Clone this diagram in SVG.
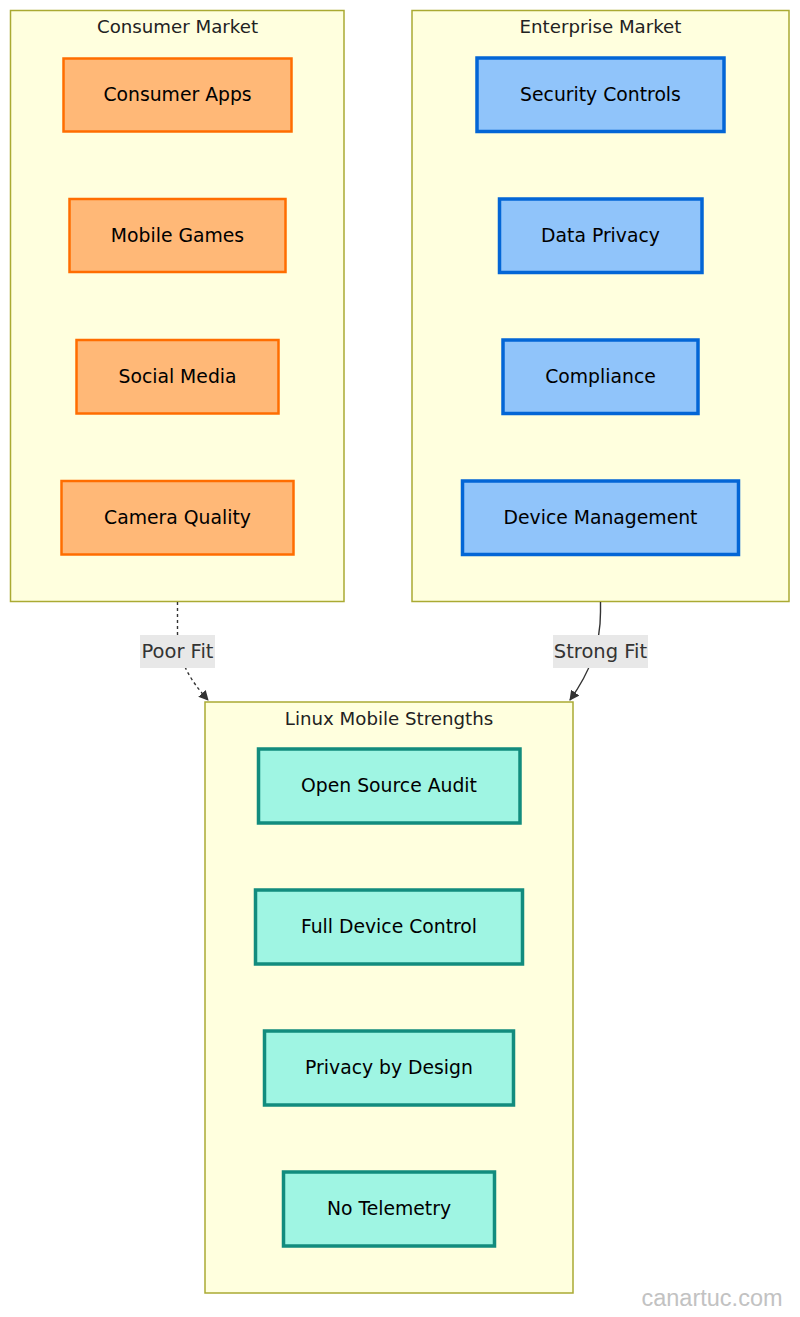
<svg xmlns="http://www.w3.org/2000/svg" width="800" height="1317" viewBox="0 0 800 1317">
<defs>
<style>
.cluster{fill:#ffffde;stroke:#aaaa33;stroke-width:1.5}
.ctitle{font-family:"DejaVu Sans",sans-serif;font-size:18.2px;fill:#222;text-anchor:middle}
.ntext{font-family:"DejaVu Sans",sans-serif;font-size:18.8px;fill:#000;text-anchor:middle;dominant-baseline:central}
.orange{fill:#ffb877;stroke:#ff6d00;stroke-width:2.5}
.blue{fill:#90c4fa;stroke:#0366d6;stroke-width:3.5}
.teal{fill:#9ff5e3;stroke:#128c7e;stroke-width:3.5}
.edge{fill:none;stroke:#333;stroke-width:1.4}
.lblbg{fill:#e8e8e8}
.ltext{font-family:"DejaVu Sans",sans-serif;font-size:19.5px;fill:#333;text-anchor:middle;dominant-baseline:central}
</style>
<marker id="arrow" viewBox="0 0 10 10" refX="9" refY="5" markerWidth="10" markerHeight="10" markerUnits="userSpaceOnUse" orient="auto">
<path d="M0,0 L10,5 L0,10 z" fill="#333"/>
</marker>
</defs>
<rect width="800" height="1317" fill="#ffffff"/>

<g id="cluster-consumer">
<rect class="cluster" x="10.5" y="10.5" width="333.5" height="591"/>
<text class="ctitle" x="177.5" y="33">Consumer Market</text>
</g>
<g id="cluster-enterprise">
<rect class="cluster" x="412" y="10.5" width="377" height="591"/>
<text class="ctitle" x="600.5" y="33">Enterprise Market</text>
</g>
<g id="cluster-linux">
<rect class="cluster" x="205" y="702" width="368" height="591"/>
<text class="ctitle" x="389" y="725">Linux Mobile Strengths</text>
</g>

<g id="consumer-apps"><rect class="orange" x="63.5" y="58.5" width="228" height="73"/><text class="ntext" x="177.5" y="94.5">Consumer Apps</text></g>
<g id="mobile-games"><rect class="orange" x="69.5" y="199" width="216" height="73"/><text class="ntext" x="177.5" y="235">Mobile Games</text></g>
<g id="social-media"><rect class="orange" x="76.5" y="340" width="202" height="73.5"/><text class="ntext" x="177.5" y="376">Social Media</text></g>
<g id="camera-quality"><rect class="orange" x="61.5" y="481" width="232" height="73.5"/><text class="ntext" x="177.5" y="517">Camera Quality</text></g>

<g id="security-controls"><rect class="blue" x="477" y="58" width="247" height="73.5"/><text class="ntext" x="600.5" y="94.5">Security Controls</text></g>
<g id="data-privacy"><rect class="blue" x="499.5" y="199" width="202.5" height="73.5"/><text class="ntext" x="600.5" y="235">Data Privacy</text></g>
<g id="compliance"><rect class="blue" x="503" y="340" width="195" height="73.5"/><text class="ntext" x="600.5" y="376">Compliance</text></g>
<g id="device-management"><rect class="blue" x="462.5" y="481" width="276" height="73.5"/><text class="ntext" x="600.5" y="517">Device Management</text></g>

<g id="open-source-audit"><rect class="teal" x="258.5" y="749" width="261.5" height="74"/><text class="ntext" x="389" y="785.5">Open Source Audit</text></g>
<g id="full-device-control"><rect class="teal" x="255.5" y="890" width="267" height="74"/><text class="ntext" x="389" y="926.5">Full Device Control</text></g>
<g id="privacy-by-design"><rect class="teal" x="264.5" y="1031" width="249" height="74"/><text class="ntext" x="389" y="1067.5">Privacy by Design</text></g>
<g id="no-telemetry"><rect class="teal" x="283.5" y="1172" width="211" height="74"/><text class="ntext" x="389" y="1208.5">No Telemetry</text></g>

<g id="connectors">
<path class="edge" d="M177.5,602 L177.5,632 C177.5,660 190,680 208,700" stroke-dasharray="3,3" marker-end="url(#arrow)"/>
<path class="edge" d="M600.5,602 L600.5,612 C600.5,645 590,672 570,700" marker-end="url(#arrow)"/>
<rect class="lblbg" x="140" y="635" width="75" height="33"/>
<text class="ltext" x="177.5" y="651">Poor Fit</text>
<rect class="lblbg" x="553" y="635" width="95" height="33"/>
<text class="ltext" x="600.5" y="651">Strong Fit</text>
</g>

<text x="712" y="1306" font-family="Liberation Sans, Arial, sans-serif" font-size="23.5" fill="#c2c2c2" text-anchor="middle">canartuc.com</text>
</svg>
